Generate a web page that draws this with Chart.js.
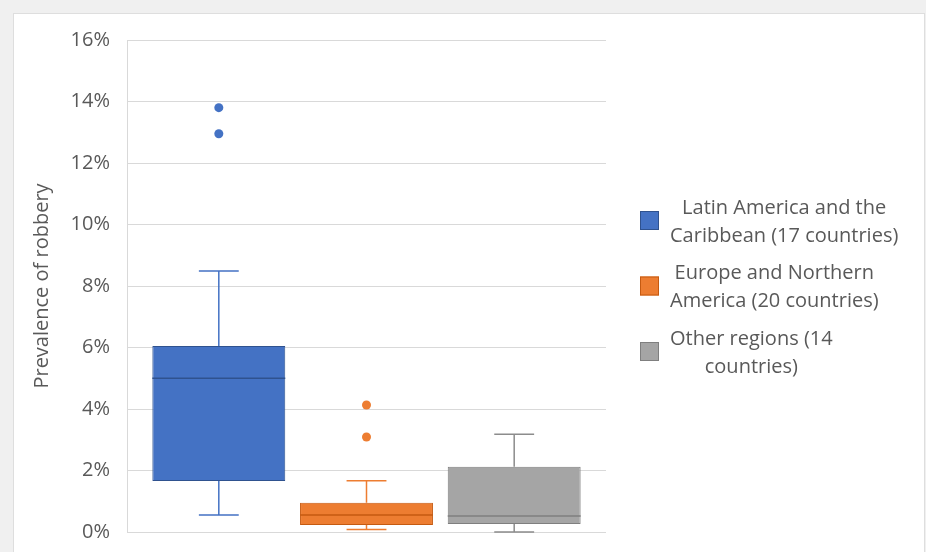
<!DOCTYPE html>
<html>
<head>
<meta charset="utf-8">
<script src="https://cdn.jsdelivr.net/npm/chart.js@4.4.1/dist/chart.umd.min.js"></script>
<style>
  html, body { margin: 0; padding: 0; background: #f0f0f0; width: 926px; height: 552px; overflow: hidden; }
  #frame { position: absolute; left: 13px; top: 13px; width: 910px; height: 560px; background: #fff; border: 1px solid #dedede; }
  #wrap { position: absolute; left: 0; top: 0; width: 926px; height: 552px; }
</style>
</head>
<body>
<div id="frame"></div>
<div id="wrap"><canvas id="chart" width="926" height="552"></canvas></div>
<script>
// Box plot: prevalence of robbery by region (values in %)
const regionLines = [
  ['Latin America and the', 'Caribbean (17 countries)'],
  ['Europe and Northern', 'America (20 countries)'],
  ['Other regions (14', 'countries)'],
];
const lowWhisker = [0.55, 0.08, 0.0];
const q1 = [1.66, 0.23, 0.26];
const median = [5.0, 0.55, 0.52];
const q3 = [6.05, 0.95, 2.12];
const highWhisker = [8.49, 1.67, 3.18];
const outliers = [[13.8, 12.95], [4.13, 3.09], []];

const yTicks = [0, 2, 4, 6, 8, 10, 12, 14, 16];

const fills = ['#4472C4', '#ED7D31', '#A5A5A5'];
const borders = ['#2F528F', '#C55A11', '#7F7F7F'];
const whiskerColors = ['#4472C4', '#ED7D31', '#8C8C8C'];
const textColor = '#595959';
const font = 'Open Sans';

// whiskers, medians and outlier dots, placed with the bar elements and the y scale
const boxExtras = {
  id: 'boxExtras',
  afterDatasetsDraw(chart) {
    const ctx = chart.ctx;
    const y = chart.scales.y;
    chart.data.datasets.forEach((ds, i) => {
      const bar = chart.getDatasetMeta(i).data[0];
      const x = bar.x;
      const half = bar.width / 2;
      const cap = bar.width * 0.15;
      ctx.save();
      ctx.lineWidth = 1.5;
      ctx.strokeStyle = whiskerColors[i];
      ctx.beginPath();
      ctx.moveTo(x, y.getPixelForValue(q3[i]));
      ctx.lineTo(x, y.getPixelForValue(highWhisker[i]));
      ctx.moveTo(x - cap, y.getPixelForValue(highWhisker[i]));
      ctx.lineTo(x + cap, y.getPixelForValue(highWhisker[i]));
      ctx.moveTo(x, y.getPixelForValue(q1[i]));
      ctx.lineTo(x, y.getPixelForValue(lowWhisker[i]));
      ctx.moveTo(x - cap, y.getPixelForValue(lowWhisker[i]));
      ctx.lineTo(x + cap, y.getPixelForValue(lowWhisker[i]));
      ctx.stroke();
      ctx.strokeStyle = borders[i];
      ctx.beginPath();
      ctx.moveTo(x - half, y.getPixelForValue(median[i]));
      ctx.lineTo(x + half, y.getPixelForValue(median[i]));
      ctx.stroke();
      ctx.fillStyle = fills[i];
      outliers[i].forEach(v => {
        ctx.beginPath();
        ctx.arc(x, y.getPixelForValue(v), 4.5, 0, Math.PI * 2);
        ctx.fill();
      });
      ctx.restore();
    });
  }
};

// legend on the right with two centred lines per item
const sideLegend = {
  id: 'sideLegend',
  afterDraw(chart) {
    const ctx = chart.ctx;
    const area = chart.chartArea;
    const boxX = area.right + 34;
    const textLeft = area.right + 64;
    const centers = [222, 287.5, 353];
    ctx.save();
    ctx.font = '20px ' + font;
    ctx.textBaseline = 'middle';
    ctx.textAlign = 'center';
    regionLines.forEach((lines, i) => {
      const cy = centers[i];
      ctx.fillStyle = fills[i];
      ctx.strokeStyle = borders[i];
      ctx.lineWidth = 1;
      ctx.fillRect(boxX, cy - 11, 19, 19);
      ctx.strokeRect(boxX + 0.5, cy - 10.5, 18, 18);
      const w = Math.max(...lines.map(l => ctx.measureText(l).width));
      ctx.fillStyle = textColor;
      lines.forEach((l, k) => {
        ctx.fillText(l, textLeft + w / 2, cy + (k - (lines.length - 1) / 2) * 28);
      });
    });
    ctx.restore();
  }
};

new Chart(document.getElementById('chart'), {
  type: 'bar',
  data: {
    labels: [''],
    datasets: regionLines.map((lines, i) => ({
      label: lines.join(' '),
      data: [[q1[i], q3[i]]],
      backgroundColor: fills[i],
      borderColor: borders[i],
      borderWidth: 1,
      borderSkipped: false,
      categoryPercentage: 0.925,
      barPercentage: 0.9,
    }))
  },
  options: {
    responsive: false,
    animation: false,
    devicePixelRatio: 1,
    layout: { padding: { left: 13, top: 40, right: 320, bottom: 20 } },
    plugins: { legend: { display: false }, tooltip: { enabled: false } },
    scales: {
      x: { display: false },
      y: {
        min: 0,
        max: 16,
        afterBuildTicks: (s) => { s.ticks = yTicks.map(v => ({ value: v })); },
        afterFit: (s) => {
          s.width = 114;
          // tick padding would otherwise push the plot bottom up
          s.paddingTop = 0;
          s.paddingBottom = 0;
        },
        grid: { color: '#d9d9d9', drawTicks: false },
        border: { display: true, color: '#d9d9d9' },
        ticks: {
          padding: 17,
          color: textColor,
          font: { family: font, size: 20 },
          callback: (v) => v + '%',
        },
        title: {
          display: true,
          text: 'Prevalence of robbery',
          color: textColor,
          font: { family: font, size: 20 },
          padding: { top: 17, bottom: 0 },
        }
      }
    }
  },
  plugins: [boxExtras, sideLegend]
});
</script>
</body>
</html>
